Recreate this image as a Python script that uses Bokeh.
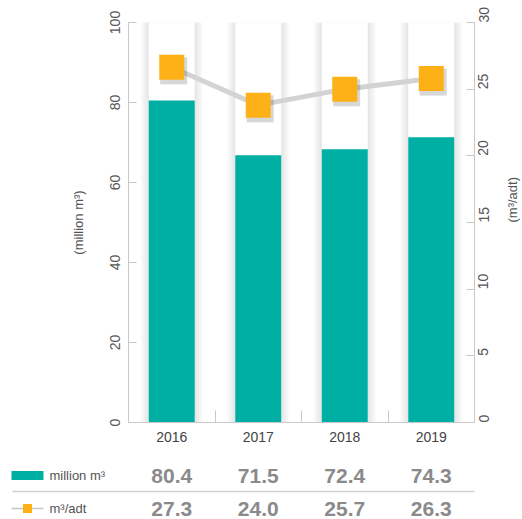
import math
from bokeh.plotting import figure
from bokeh.models import Range1d, LinearAxis, FixedTicker, ColumnDataSource
from bokeh.transform import dodge
from bokeh.core.properties import value
from bokeh.embed import file_html
from bokeh.resources import INLINE

# ---- data ----
years = ["2016", "2017", "2018", "2019"]
volume = [80.5, 66.8, 68.3, 71.3]          # million m3 (bar heights as drawn)
intensity = [26.65, 23.8, 25.0, 25.8]      # m3/adt (line as drawn)
volume_labels = ["80.4", "71.5", "72.4", "74.3"]
intensity_labels = ["27.3", "24.0", "25.7", "26.3"]
left_ticks = [0, 20, 40, 60, 80, 100]
right_ticks = [0, 5, 10, 15, 20, 25, 30]
series_names = ["million m³", "m³/adt"]

# ---- style / layout ----
FONT = "Liberation Sans"
TEAL = "#00afa4"
ORANGE = "#fdb117"
LINE_GRAY = "#d3d3d3"
AX_GRAY = "#c8c8c8"
TXT = "#555555"

W, H = 522, 519
LEFT_PX, RIGHT_PX = 128, 474      # plot area edges (pixels)
ZERO_PX, TOP_PX = 422, 22         # value 0 and value max (pixels)
n = len(years)
idx = list(range(n))
px_per = (RIGHT_PX - LEFT_PX) / n
ymax_l, ymax_r = left_ticks[-1], right_ticks[-1]
ppu = (ZERO_PX - TOP_PX) / ymax_l
bar_w = 46 / px_per

x_start = -0.5 - LEFT_PX / px_per
x_end = x_start + W / px_per
y_start = -(H - ZERO_PX) / ppu
y_end = ZERO_PX / ppu
rscale = ymax_r / ymax_l

def px2x(px):
    return x_start + px / px_per

def py2y(py):
    return (ZERO_PX - py) / ppu

src = ColumnDataSource(dict(x=idx, vol=volume, inten=intensity))

p = figure(width=W, height=H, x_range=Range1d(x_start, x_end), y_range=Range1d(y_start, y_end),
           output_backend="svg", toolbar_location=None, min_border=0)
p.extra_y_ranges = {"r": Range1d(y_start * rscale, y_end * rscale)}
p.outline_line_color = None
p.grid.visible = False
p.background_fill_color = "white"
p.border_fill_color = "white"

# soft shadows around columns
for k in range(1, 6):
    p.vbar(x="x", top=ymax_l, bottom=0, width=bar_w + 2 * k * 1.6 / px_per, source=src,
           fill_color="black", fill_alpha=0.018, line_color=None)
p.vbar(x="x", top=ymax_l, bottom=0, width=bar_w, source=src, fill_color="white", line_color=None)
p.vbar(x="x", top="vol", bottom=0, width=bar_w, source=src, fill_color=TEAL, line_color=None)

p.line(x="x", y="inten", source=src, y_range_name="r", line_color=LINE_GRAY, line_width=5)
for dx, dy, a in [(0.02, -0.25, 0.09), (0.025, -0.3, 0.07)]:
    p.scatter(x=dodge("x", dx), y=dodge("inten", dy), source=src, y_range_name="r",
              marker="square", size=27, fill_color="black", fill_alpha=a, line_color=None)
p.scatter(x="x", y="inten", source=src, y_range_name="r", marker="square", size=25,
          fill_color=ORANGE, line_color=None)

def style_y(ax, label, standoff):
    ax.axis_line_color = AX_GRAY
    ax.major_tick_line_color = AX_GRAY
    ax.major_tick_in = 8
    ax.major_tick_out = 0
    ax.minor_tick_line_color = None
    ax.major_label_text_font = FONT
    ax.major_label_text_font_size = "14px"
    ax.major_label_text_color = TXT
    ax.major_label_standoff = 9
    ax.axis_label = label
    ax.axis_label_text_font = FONT
    ax.axis_label_text_font_size = "13px"
    ax.axis_label_text_font_style = "normal"
    ax.axis_label_text_color = TXT
    ax.axis_label_standoff = standoff

ly = p.yaxis[0]
ly.ticker = FixedTicker(ticks=left_ticks)
ly.fixed_location = -0.5
ly.bounds = (0, ymax_l)
style_y(ly, "(million m³)", 21)
ly.major_label_orientation = "vertical"

ry = LinearAxis(y_range_name="r", ticker=FixedTicker(ticks=right_ticks))
ry.fixed_location = n - 0.5
ry.bounds = (0, ymax_r)
style_y(ry, "(m³/adt)", 16)
ry.major_label_orientation = math.pi / 2
try:
    ry.axis_label_orientation = math.pi / 2
except Exception:
    pass
p.add_layout(ry, "right")

bx = p.xaxis[0]
bx.fixed_location = 0
bx.bounds = (-0.5, n - 0.5)
bx.ticker = FixedTicker(ticks=idx, minor_ticks=[i + 0.5 for i in idx[:-1]])
bx.major_label_overrides = {i: y for i, y in zip(idx, years)}
bx.axis_line_color = AX_GRAY
bx.major_tick_line_color = None
bx.major_tick_in = 0
bx.major_tick_out = 0
bx.minor_tick_line_color = AX_GRAY
bx.minor_tick_in = 12
bx.minor_tick_out = 0
bx.major_label_text_font = FONT
bx.major_label_text_font_size = "14px"
bx.major_label_text_color = "#444444"
bx.major_label_standoff = 9

# ---- table below ----
row_y = [py2y(475), py2y(508)]
sep_y = py2y(491)

p.segment(x0=[px2x(12)], y0=[sep_y], x1=[n - 0.5], y1=[sep_y], line_color="#cfcfcf", line_width=1.5)

p.text(x=idx, y=[row_y[0]] * n, text=volume_labels, text_align="center", text_baseline="middle",
       text_font=value(FONT), text_font_size="21px", text_font_style="bold", text_color="#8a8a8a")
p.text(x=idx, y=[row_y[1]] * n, text=intensity_labels, text_align="center", text_baseline="middle",
       text_font=value(FONT), text_font_size="21px", text_font_style="bold", text_color="#8a8a8a")

# legend column
p.rect(x=[px2x(27)], y=[row_y[0]], width=32, height=9, width_units="screen", height_units="screen",
       fill_color=TEAL, line_color=None)
p.segment(x0=[px2x(11)], y0=[row_y[1]], x1=[px2x(43)], y1=[row_y[1]], line_color=AX_GRAY, line_width=1.5)
p.scatter(x=[px2x(27)], y=[row_y[1]], marker="square", size=9, fill_color=ORANGE, line_color=None)
p.text(x=[px2x(49)] * 2, y=row_y, text=series_names, text_align="left", text_baseline="middle",
       text_font=value(FONT), text_font_size="13px", text_color=TXT)

open("out.html", "w").write(file_html(p, INLINE))
